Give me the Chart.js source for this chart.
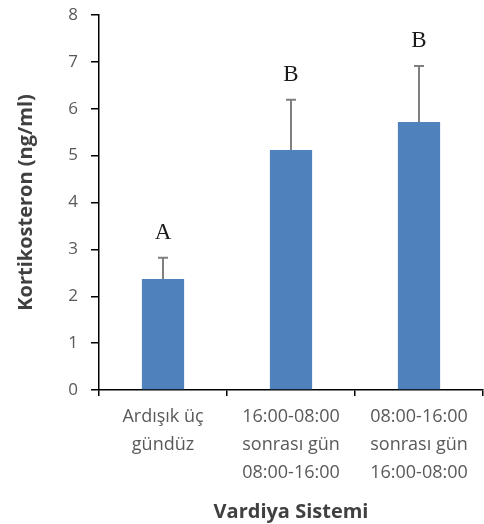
<!DOCTYPE html>
<html lang="tr">
<head>
    <meta charset="UTF-8">
    <title>Kortikosteron - Vardiya Sistemi</title>
    <script src="https://cdn.jsdelivr.net/npm/chart.js"></script>
    <style>
        body { margin: 0; padding: 0; background: #ffffff; }
        .chart-container { width: 484px; height: 524px; position: relative; }
    </style>
</head>
<body>
    <div class="chart-container">
        <canvas id="myChart"></canvas>
    </div>
    <script>
        // data
        const categories = [
            ['Ardışık üç', 'gündüz'],
            ['16:00-08:00', 'sonrası gün', '08:00-16:00'],
            ['08:00-16:00', 'sonrası gün', '16:00-08:00']
        ];
        const means = [2.37, 5.12, 5.72];
        const errors = [0.45, 1.07, 1.19];   // upper error only
        const groupLetters = ['A', 'B', 'B'];

        // error bars + significance letters
        const errorBarPlugin = {
            id: 'errorBars',
            afterDatasetsDraw(chart) {
                const c = chart.ctx;
                const xs = chart.scales.x;
                const ys = chart.scales.y;
                c.save();
                means.forEach((m, i) => {
                    const x = xs.getPixelForValue(i);
                    const yTop = ys.getPixelForValue(m);
                    const yErr = ys.getPixelForValue(m + errors[i]);
                    c.strokeStyle = '#7f7f7f';
                    c.lineWidth = 2;
                    c.beginPath();
                    c.moveTo(x, yTop);
                    c.lineTo(x, yErr);
                    c.moveTo(x - 5, yErr);
                    c.lineTo(x + 5, yErr);
                    c.stroke();

                    c.fillStyle = '#1a1a1a';
                    c.font = '23px "Liberation Serif", serif';
                    c.textAlign = 'center';
                    c.textBaseline = 'middle';
                    c.fillText(groupLetters[i], x, yErr - 25);
                });
                c.restore();
            }
        };

        const ctx = document.getElementById('myChart').getContext('2d');
        const myChart = new Chart(ctx, {
            type: 'bar',
            data: {
                labels: categories,
                datasets: [{
                    data: means,
                    backgroundColor: '#4f81bd',
                    borderWidth: 0,
                    categoryPercentage: 1,
                    barPercentage: 0.33
                }]
            },
            options: {
                responsive: true,
                maintainAspectRatio: false,
                animation: false,
                layout: { padding: { top: 15, right: 1, left: 0, bottom: 0 } },
                plugins: {
                    legend: { display: false },
                    tooltip: { enabled: false }
                },
                scales: {
                    x: {
                        afterFit(scale) { scale.height = 134; },
                        grid: {
                            offset: true,
                            drawOnChartArea: false,
                            tickLength: 6,
                            color: '#000000',
                            lineWidth: 1.5
                        },
                        border: { color: '#000000', width: 1.5 },
                        ticks: {
                            color: '#595959',
                            font: { family: '"Open Sans", sans-serif', size: 18, lineHeight: 1.55 },
                            padding: 7,
                            maxRotation: 0,
                            autoSkip: false
                        },
                        title: {
                            display: true,
                            text: 'Vardiya Sistemi',
                            color: '#404040',
                            font: { family: '"Open Sans", sans-serif', size: 20, weight: 'bold' },
                            padding: { top: 4, bottom: 0 }
                        }
                    },
                    y: {
                        min: 0,
                        max: 8,
                        afterFit(scale) {
                            scale.width = 99;
                            scale.paddingTop = 0;
                            scale.paddingBottom = 0;
                        },
                        grid: {
                            drawOnChartArea: false,
                            tickLength: 8,
                            color: '#000000',
                            lineWidth: 1.5
                        },
                        border: { color: '#000000', width: 1.5 },
                        ticks: {
                            stepSize: 1,
                            color: '#595959',
                            font: { family: '"Open Sans", sans-serif', size: 17 },
                            padding: 13
                        },
                        title: {
                            display: true,
                            text: 'Kortikosteron (ng/ml)',
                            color: '#404040',
                            font: { family: '"Open Sans", sans-serif', size: 20, weight: 'bold' },
                            padding: { top: 14, bottom: 0 }
                        }
                    }
                }
            },
            plugins: [errorBarPlugin]
        });
    </script>
</body>
</html>
